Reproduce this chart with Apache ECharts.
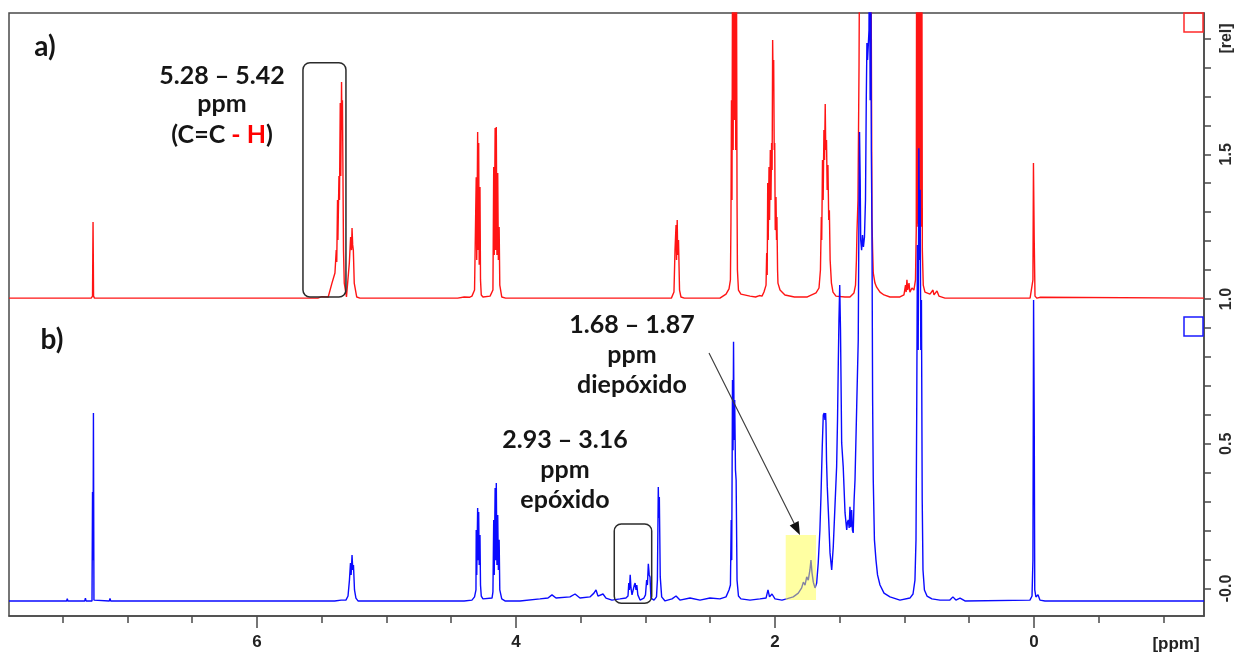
<!DOCTYPE html>
<html>
<head>
<meta charset="utf-8">
<script src="https://cdn.jsdelivr.net/npm/echarts@6/dist/echarts.min.js"></script>
<style>
  html, body { margin: 0; padding: 0; background: #ffffff; }
  #chart { width: 1241px; height: 652px; }
</style>
</head>
<body>
<div id="chart"></div>
<script>
// ---- axis ticks and labels ----
const ppmTicks = [7.5, 7, 6.5, 6, 5.5, 5, 4.5, 4, 3.5, 3, 2.5, 2, 1.5, 1, 0.5, 0, -0.5, -1];
const ppmLabels = [6, 4, 2, 0];
const relTicks = [0, 0.1, 0.2, 0.3, 0.4, 0.5, 0.6, 0.7, 0.8, 0.9, 1.0, 1.1, 1.2, 1.3, 1.4, 1.5, 1.6, 1.7, 1.8, 1.9];
const relLabels = [0, 0.5, 1.0, 1.5, 1.9];

// ---- spectrum a): oil, trace stacked at 1.0 rel ----  [ppm, rel]
const spectrumA = [
  [7.915, 1.003], [7.76, 1.003], [7.753, 1.008], [7.746, 1.003],
  [7.55, 1.003], [7.545, 1.006], [7.54, 1.003],
  [7.28, 1.003], [7.27, 1.010], [7.268, 1.145], [7.266, 1.266], [7.264, 1.145], [7.262, 1.010], [7.255, 1.003],
  [6.45, 1.003], [6.44, 1.006], [6.43, 1.003],
  [5.53, 1.003], [5.50, 1.008], [5.45, 1.007], [5.436, 1.010],
  [5.421, 1.055], [5.398, 1.090], [5.388, 1.169], [5.384, 1.128], [5.378, 1.342], [5.375, 1.204], [5.367, 1.425],
  [5.363, 1.342], [5.357, 1.677], [5.353, 1.425], [5.347, 1.750], [5.344, 1.584], [5.340, 1.687], [5.336, 1.425],
  [5.332, 1.169], [5.326, 1.055], [5.309, 1.007], [5.295, 1.003],
  [5.287, 1.124], [5.277, 1.214], [5.270, 1.169], [5.266, 1.245], [5.261, 1.187], [5.256, 1.169], [5.249, 1.055],
  [5.230, 1.007], [5.205, 1.003],
  [4.45, 1.003], [4.40, 1.007], [4.36, 1.006], [4.34, 1.010], [4.320, 1.031],
  [4.309, 1.031], [4.307, 1.421], [4.303, 1.135], [4.296, 1.577], [4.292, 1.169], [4.288, 1.539], [4.284, 1.118],
  [4.278, 1.387], [4.274, 1.066], [4.268, 1.014], [4.255, 1.007],
  [4.20, 1.010], [4.185, 1.014], [4.178, 1.031], [4.172, 1.456], [4.168, 1.152], [4.161, 1.591], [4.157, 1.169],
  [4.152, 1.594], [4.147, 1.152], [4.141, 1.435], [4.136, 1.135], [4.130, 1.249], [4.125, 1.048], [4.110, 1.007], [4.08, 1.003],
  [2.80, 1.003], [2.795, 1.007], [2.780, 1.024], [2.772, 1.169], [2.764, 1.256], [2.760, 1.135], [2.755, 1.273],
  [2.751, 1.152], [2.745, 1.204], [2.737, 1.031], [2.726, 1.007], [2.70, 1.003],
  [2.425, 1.003], [2.378, 1.017], [2.355, 1.035], [2.344, 1.066], [2.340, 1.263], [2.336, 1.687], [2.332, 1.342],
  [2.327, 2.3], [2.323, 1.515], [2.318, 2.3], [2.313, 1.618], [2.307, 2.3], [2.303, 1.515], [2.298, 2.3],
  [2.293, 1.342], [2.290, 1.100], [2.282, 1.031], [2.263, 1.017], [2.193, 1.010], [2.15, 1.007], [2.12, 1.012], [2.10, 1.010],
  [2.085, 1.024], [2.069, 1.048], [2.064, 1.159], [2.060, 1.083], [2.056, 1.401], [2.052, 1.204], [2.046, 1.456],
  [2.042, 1.273], [2.036, 1.515], [2.031, 1.342], [2.026, 1.539], [2.022, 1.446], [2.018, 1.895], [2.014, 1.722],
  [2.010, 1.826], [2.006, 1.515], [2.002, 1.539], [1.998, 1.238], [1.992, 1.352], [1.988, 1.204], [1.985, 1.283],
  [1.980, 1.100], [1.977, 1.055], [1.961, 1.031], [1.923, 1.014], [1.85, 1.007], [1.75, 1.007],
  [1.683, 1.021], [1.660, 1.038], [1.649, 1.100], [1.642, 1.283], [1.639, 1.204], [1.633, 1.480], [1.628, 1.342],
  [1.622, 1.584], [1.617, 1.480], [1.612, 1.674], [1.608, 1.515], [1.602, 1.549], [1.597, 1.377], [1.591, 1.463],
  [1.585, 1.273], [1.580, 1.307], [1.574, 1.135], [1.564, 1.055], [1.552, 1.024], [1.529, 1.010], [1.46, 1.007], [1.421, 1.007],
  [1.390, 1.021], [1.378, 1.048], [1.371, 1.135], [1.367, 1.228], [1.359, 1.342], [1.351, 1.801], [1.346, 2.3],
  [1.259, 2.3], [1.251, 1.273], [1.246, 1.169], [1.241, 1.090], [1.228, 1.055], [1.215, 1.041], [1.189, 1.024],
  [1.158, 1.014], [1.112, 1.007], [1.035, 1.007],
  [1.004, 1.014], [0.992, 1.048], [0.987, 1.024], [0.981, 1.066], [0.975, 1.031], [0.965, 1.055], [0.958, 1.024],
  [0.942, 1.038], [0.927, 1.031], [0.915, 1.066], [0.909, 1.238], [0.906, 2.3], [0.902, 1.25], [0.898, 2.3],
  [0.894, 1.26], [0.890, 2.3], [0.886, 1.26], [0.882, 2.3], [0.878, 1.25], [0.874, 2.3], [0.870, 1.25], [0.866, 2.3],
  [0.862, 1.169], [0.855, 1.048], [0.842, 1.024], [0.803, 1.017], [0.780, 1.031], [0.772, 1.014], [0.749, 1.028],
  [0.734, 1.010], [0.687, 1.003],
  [0.03, 1.003], [0.015, 1.003], [0.008, 1.066], [0.004, 1.470], [-0.002, 1.204], [-0.008, 1.010], [-0.023, 1.003],
  [-0.05, 1.006], [-0.06, 1.003],
  [-1.313, 1.003]
];

// ---- spectrum b): epoxidised product ----  [ppm, rel]
const spectrumB = [
  [7.915, -0.043], [7.47, -0.043], [7.465, -0.035], [7.46, -0.043], [7.33, -0.043], [7.325, -0.033], [7.32, -0.043],
  [7.274, -0.043], [7.270, 0.333], [7.266, 0.098], [7.263, 0.606], [7.259, -0.040], [7.251, -0.043],
  [7.14, -0.043], [7.135, -0.034], [7.13, -0.043],
  [5.40, -0.043], [5.35, -0.040], [5.313, -0.040], [5.297, -0.026], [5.286, 0.029], [5.278, 0.088], [5.273, 0.047],
  [5.266, 0.116], [5.260, 0.064], [5.255, 0.081], [5.247, -0.005], [5.236, -0.033], [5.220, -0.043],
  [4.40, -0.043], [4.340, -0.040], [4.320, -0.029], [4.309, -0.005], [4.307, 0.202], [4.303, 0.047], [4.296, 0.278],
  [4.292, 0.098], [4.288, 0.264], [4.284, 0.081], [4.278, 0.185], [4.274, 0.012], [4.268, -0.026], [4.255, -0.036],
  [4.185, -0.033], [4.178, -0.012], [4.172, 0.237], [4.168, 0.047], [4.161, 0.347], [4.157, 0.098], [4.152, 0.364],
  [4.147, 0.081], [4.141, 0.254], [4.136, 0.064], [4.130, 0.168], [4.125, -0.005], [4.110, -0.036], [4.085, -0.043],
  [3.969, -0.043], [3.815, -0.036], [3.753, -0.033], [3.722, -0.022], [3.691, -0.033], [3.583, -0.029], [3.544, -0.019],
  [3.506, -0.033], [3.429, -0.029], [3.398, -0.016], [3.382, -0.005], [3.367, -0.026], [3.328, -0.019], [3.305, -0.033],
  [3.259, -0.040], [3.197, -0.036], [3.151, -0.033],
  [3.135, -0.026], [3.129, 0.019], [3.124, -0.005], [3.118, 0.047], [3.112, 0.002], [3.104, -0.022], [3.094, -0.022],
  [3.086, 0.012], [3.080, 0.019], [3.073, -0.005], [3.067, 0.012], [3.059, -0.022], [3.042, -0.040], [3.012, -0.033],
  [3.000, -0.022], [2.991, 0.029], [2.985, 0.012], [2.978, 0.085], [2.971, 0.047], [2.965, 0.040], [2.958, -0.033],
  [2.934, -0.040], [2.915, -0.029], [2.908, 0.029], [2.901, 0.351], [2.897, 0.244], [2.893, 0.316], [2.886, 0.040],
  [2.875, -0.029], [2.849, -0.043],
  [2.795, -0.036], [2.764, -0.026], [2.734, -0.040], [2.656, -0.033], [2.579, -0.040], [2.502, -0.033], [2.425, -0.036],
  [2.378, -0.029], [2.355, -0.005],
  [2.344, 0.012], [2.338, 0.237], [2.334, 0.098], [2.328, 0.720], [2.324, 0.478], [2.320, 0.852], [2.315, 0.513],
  [2.311, 0.651], [2.305, 0.409], [2.300, 0.375], [2.293, 0.029], [2.282, -0.026], [2.263, -0.036],
  [2.193, -0.040], [2.116, -0.036], [2.069, -0.033], [2.054, -0.005], [2.042, -0.029], [2.023, -0.019], [2.000, -0.036],
  [1.946, -0.040],
  [1.910, -0.036], [1.859, -0.029], [1.820, -0.016], [1.794, 0.002], [1.781, 0.022], [1.768, 0.012], [1.755, 0.040],
  [1.743, 0.029], [1.730, 0.064], [1.722, 0.098], [1.714, 0.054], [1.704, 0.022], [1.691, 0.002],
  [1.678, 0.019], [1.666, 0.088], [1.653, 0.202], [1.645, 0.316], [1.635, 0.489], [1.627, 0.599], [1.620, 0.606],
  [1.614, 0.582], [1.609, 0.606], [1.606, 0.572], [1.602, 0.444], [1.596, 0.351], [1.585, 0.237], [1.575, 0.123],
  [1.562, 0.064], [1.550, 0.143], [1.537, 0.282], [1.524, 0.420], [1.517, 0.582], [1.511, 0.779], [1.506, 0.927],
  [1.500, 1.048], [1.494, 0.893], [1.490, 0.720], [1.485, 0.503], [1.473, 0.420], [1.459, 0.261], [1.446, 0.202],
  [1.440, 0.230], [1.434, 0.237], [1.427, 0.209], [1.421, 0.282], [1.415, 0.212], [1.408, 0.271], [1.402, 0.202],
  [1.396, 0.192], [1.389, 0.306],
  [1.382, 0.375], [1.369, 0.627], [1.357, 0.858], [1.351, 1.342], [1.347, 1.577], [1.342, 1.411], [1.338, 1.204],
  [1.331, 1.169], [1.324, 1.221], [1.317, 1.180], [1.309, 1.214], [1.301, 1.342], [1.295, 1.687], [1.290, 1.884],
  [1.285, 1.826], [1.280, 1.871], [1.274, 1.929], [1.270, 2.3], [1.265, 1.687], [1.260, 2.3], [1.256, 1.515],
  [1.251, 1.238], [1.246, 0.651], [1.241, 0.375], [1.232, 0.168], [1.220, 0.098], [1.208, 0.047], [1.189, 0.012],
  [1.158, -0.016], [1.112, -0.029], [1.035, -0.040],
  [0.958, -0.033], [0.934, -0.019], [0.919, 0.029], [0.911, 0.168], [0.905, 0.651], [0.900, 1.187], [0.894, 0.824],
  [0.889, 1.521], [0.884, 1.135], [0.879, 1.377], [0.874, 0.824], [0.869, 0.997], [0.863, 0.306], [0.857, 0.064],
  [0.846, -0.005], [0.826, -0.026], [0.788, -0.036], [0.726, -0.040],
  [0.649, -0.040], [0.626, -0.029], [0.603, -0.040], [0.571, -0.033], [0.533, -0.043],
  [0.031, -0.040], [0.015, -0.026], [0.008, 0.098], [0.003, 0.997], [-0.002, 0.582], [-0.006, -0.005],
  [-0.015, -0.029], [-0.031, -0.022], [-0.046, -0.040], [-0.085, -0.043],
  [-1.313, -0.043]
];

// ---- annotation regions in data units [ppmFrom, relTop, ppmTo, relBottom] ----
const olefinBox = [5.645, 1.816, 5.313, 1.007];
const epoxideBox = [3.241, 0.223, 2.952, -0.051];
const diepoxideBand = [1.917, 0.185, 1.683, -0.040];
const arrowTip = [1.807, 0.185];

const AXIS_COLOR = '#4a4a4a';
const TEXT_COLOR = '#151515';
const ANNOT_FONT = 'bold 25px Lato, "Open Sans", sans-serif';

const chart = echarts.init(document.getElementById('chart'), null, { renderer: 'canvas' });

const option = {
  animation: false,
  backgroundColor: '#ffffff',
  grid: {
    left: 9, right: 37, top: 13, bottom: 36,
    show: true, borderColor: AXIS_COLOR, borderWidth: 1.5, backgroundColor: 'transparent',
    outerBoundsMode: 'none'
  },
  xAxis: [
    {
      type: 'value', inverse: true, min: -1.313, max: 7.915, position: 'bottom',
      axisLine: { show: true, onZero: false, lineStyle: { color: AXIS_COLOR, width: 1.5 } },
      axisTick: { show: true, customValues: ppmLabels, length: 12, lineStyle: { color: AXIS_COLOR, width: 1.5 } },
      axisLabel: {
        customValues: ppmLabels, margin: 18, color: '#222',
        fontFamily: '"Liberation Sans", Arial, sans-serif', fontWeight: 'bold', fontSize: 17
      },
      splitLine: { show: false }
    },
    {
      type: 'value', inverse: true, min: -1.313, max: 7.915, position: 'bottom', offset: 0,
      axisLine: { show: false, onZero: false },
      axisTick: { show: true, customValues: ppmTicks, length: 7, lineStyle: { color: AXIS_COLOR, width: 1.5 } },
      axisLabel: { show: false },
      splitLine: { show: false }
    }
  ],
  yAxis: {
    type: 'value', position: 'right', min: -0.095, max: 1.988,
    axisLine: { show: true, onZero: false, lineStyle: { color: AXIS_COLOR, width: 1.5 } },
    axisTick: { show: true, customValues: relTicks, length: 7, lineStyle: { color: AXIS_COLOR, width: 1.5 } },
    axisLabel: {
      customValues: relLabels, rotate: 90, margin: 15, color: '#2a2a2a',
      fontFamily: '"Liberation Sans", Arial, sans-serif', fontWeight: 'bold', fontSize: 16,
      formatter: function (v) {
        if (Math.abs(v - 1.9) < 1e-6) return '[rel]';
        if (v === 0) return '-0.0';
        return v.toFixed(1);
      }
    },
    splitLine: { show: false }
  },
  series: [
    {
      name: 'a)', type: 'line', data: spectrumA, symbol: 'none', clip: true,
      lineStyle: { color: '#ff1414', width: 1.4 }, z: 2
    },
    {
      name: 'b)', type: 'line', data: spectrumB, symbol: 'none', clip: true,
      lineStyle: { color: '#0a0aff', width: 1.4 }, z: 3
    }
  ]
};
chart.setOption(option);

// ---- annotations placed from data coordinates ----
function px(p) { return chart.convertToPixel({ xAxisIndex: 0, yAxisIndex: 0 }, p); }
function boxShape(b) {
  const a = px([b[0], b[1]]), c = px([b[2], b[3]]);
  return { x: Math.min(a[0], c[0]), y: Math.min(a[1], c[1]), width: Math.abs(c[0] - a[0]), height: Math.abs(c[1] - a[1]) };
}
function label(text, x, y, font, color) {
  return { type: 'text', x: x, y: y, z: 20, style: { text: text, font: font || ANNOT_FONT, fill: color || TEXT_COLOR, align: 'center', verticalAlign: 'middle' } };
}

const band = boxShape(diepoxideBand);
const ob = boxShape(olefinBox);
const eb = boxShape(epoxideBox);
const tip = px(arrowTip);
const start = [709, 353];
const ang = Math.atan2(tip[1] - start[1], tip[0] - start[0]);
const headLen = 13, headHalf = 5;
const base = [tip[0] - headLen * Math.cos(ang), tip[1] - headLen * Math.sin(ang)];
const head = [
  tip,
  [base[0] + headHalf * Math.sin(ang), base[1] - headHalf * Math.cos(ang)],
  [base[0] - headHalf * Math.sin(ang), base[1] + headHalf * Math.cos(ang)]
];

chart.setOption({
  graphic: [
    // highlighted diepoxide band, drawn over the trace
    { type: 'rect', z: 10, shape: band, style: { fill: 'rgba(255,255,70,0.5)' } },
    { type: 'rect', z: 11, shape: Object.assign({ r: 7 }, ob), style: { fill: 'none', stroke: '#2b2b2b', lineWidth: 1.5 } },
    { type: 'rect', z: 11, shape: Object.assign({ r: 7 }, eb), style: { fill: 'none', stroke: '#2b2b2b', lineWidth: 1.5 } },
    { type: 'line', z: 12, shape: { x1: start[0], y1: start[1], x2: base[0], y2: base[1] }, style: { stroke: '#3a3a3a', lineWidth: 1.1 } },
    { type: 'polygon', z: 12, shape: { points: head }, style: { fill: '#111' } },
    // trace markers
    { type: 'rect', z: 12, shape: { x: 1184, y: 13, width: 19, height: 19 }, style: { fill: 'none', stroke: '#ff2a2a', lineWidth: 1.5 } },
    { type: 'rect', z: 12, shape: { x: 1184, y: 317, width: 19, height: 19 }, style: { fill: 'none', stroke: '#1a1aff', lineWidth: 1.5 } },
    // panel letters
    label('a)', 45, 47, 'bold 28px Lato, "Open Sans", sans-serif'),
    label('b)', 52, 340, 'bold 28px Lato, "Open Sans", sans-serif'),
    // olefinic protons
    label('5.28 \u2013 5.42', 222, 76),
    label('ppm', 222, 104),
    {
      type: 'text', x: 222, y: 135, z: 20,
      style: {
        text: '{k|(C=C }{r|- H}{k|)}', align: 'center', verticalAlign: 'middle',
        rich: {
          k: { font: ANNOT_FONT, fill: TEXT_COLOR },
          r: { font: ANNOT_FONT, fill: '#ff0000' }
        }
      }
    },
    // diepoxide
    label('1.68 \u2013 1.87', 632, 325),
    label('ppm', 632, 355),
    label('diep\u00f3xido', 632, 385),
    // epoxide
    label('2.93 \u2013 3.16', 565, 440),
    label('ppm', 565, 470),
    label('ep\u00f3xido', 565, 500),
    // x-axis unit
    label('[ppm]', 1176, 644, 'bold 17px "Liberation Sans", Arial, sans-serif', '#222')
  ]
});
</script>
</body>
</html>
